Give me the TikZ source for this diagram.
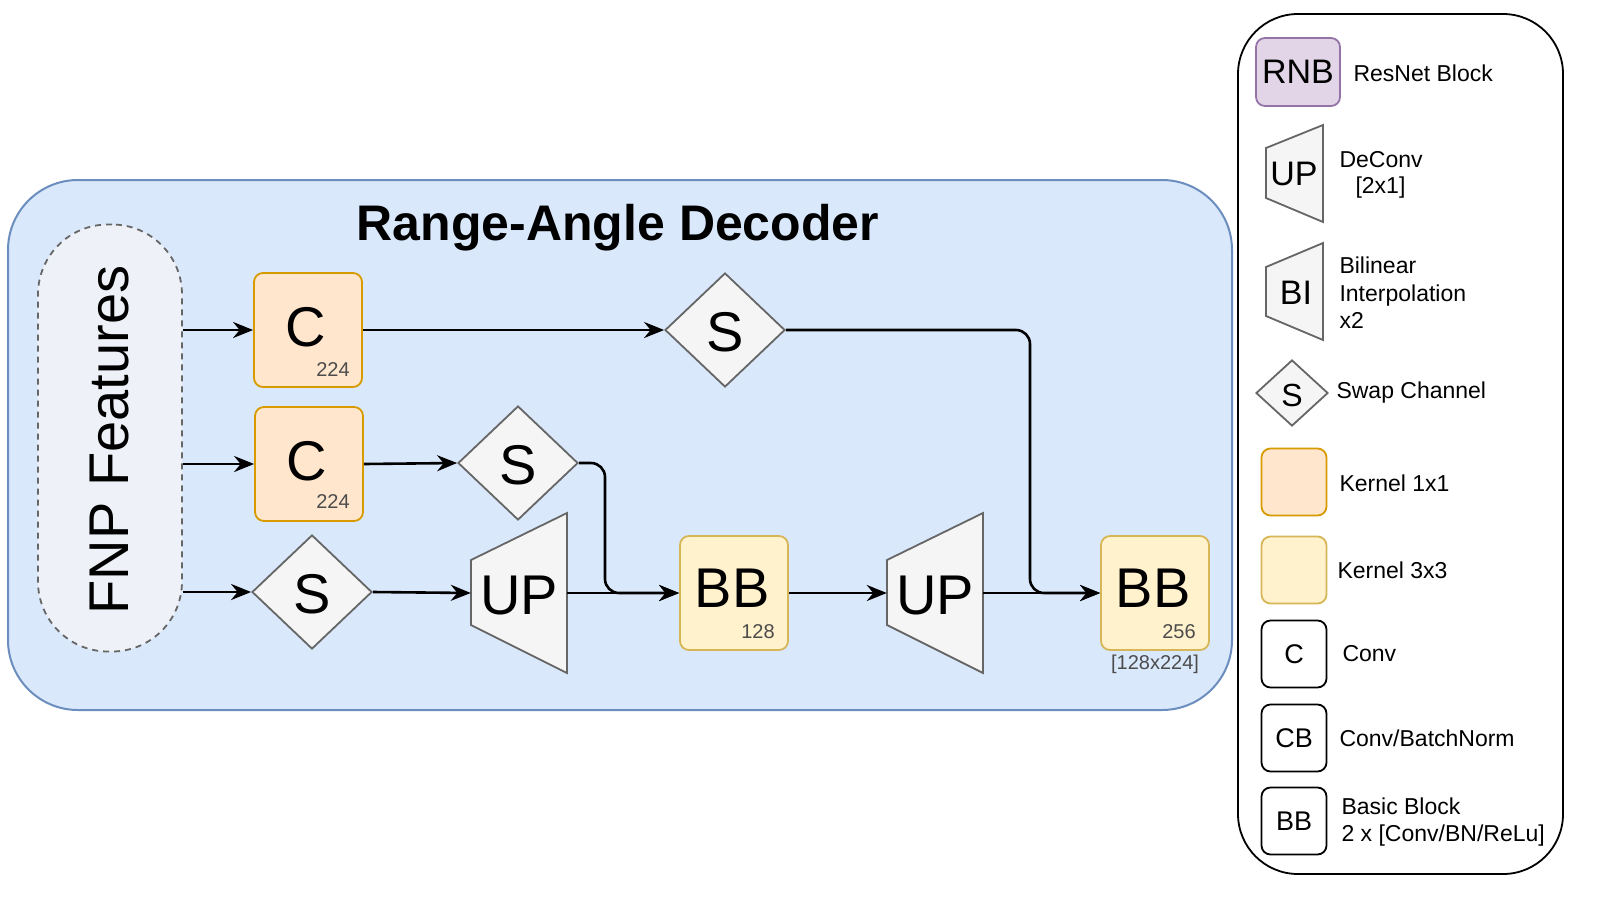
\documentclass[tikz,border=0pt]{standalone}
\usepackage{fontspec}
\setmainfont{Liberation Sans}
\usetikzlibrary{shapes.geometric,arrows.meta,calc}
\definecolor{blueF}{HTML}{DAE8FC}\definecolor{blueD}{HTML}{6C8EBF}
\definecolor{grayF}{HTML}{F5F5F5}\definecolor{grayD}{HTML}{666666}
\definecolor{orF}{HTML}{FFE6CC}\definecolor{orD}{HTML}{D79B00}
\definecolor{yeF}{HTML}{FFF2CC}\definecolor{yeD}{HTML}{D6B656}
\definecolor{puF}{HTML}{E1D5E7}\definecolor{puD}{HTML}{9673A6}
\definecolor{fnpF}{HTML}{EEF2F8}
\newcommand\fsz[1]{\fontsize{#1}{#1}\selectfont}
\begin{document}
\begin{tikzpicture}[x=1pt,y=-1pt,
 box/.style={rectangle,rounded corners=9,line width=1.8,inner sep=0,minimum width=108,minimum height=114},
 kone/.style={box,fill=orF,draw=orD},
 kthree/.style={box,fill=yeF,draw=yeD},
 dia/.style={diamond,fill=grayF,draw=grayD,line width=1.8,inner sep=0,minimum width=120,minimum height=114},
 trap/.style={fill=grayF,draw=grayD,line width=1.8},
 hold/.style={rectangle,inner sep=0,minimum width=96,minimum height=160},
 arr/.style={line width=2.6,-{Stealth[length=20,width=16]}},
 big/.style={font=\fsz{56},inner sep=0},
 small/.style={font=\fsz{20},text=black!70,inner sep=0},
 lab/.style={font=\fsz{23},anchor=west,align=left},
 lbox/.style={rectangle,rounded corners=9,line width=1.8,inner sep=0,minimum width=65,minimum height=67,font=\fsz{27}}]
\useasboundingbox[fill=white] (0,0) rectangle (1600,900);
% main panel
\draw[fill=blueF,draw=blueD,line width=2,rounded corners=70] (8,180) rectangle (1232,710);
\node[font=\fsz{50}\bfseries] (title) at (618,228) {Range-Angle Decoder};
\node[rectangle,rounded corners=70,minimum width=144,minimum height=427,fill=fnpF,draw=grayD,dashed,line width=1.8,dash pattern=on 6 off 5] (fnp) at (110,438) {};
\node[big,rotate=90] (fnptxt) at (110,440) {FNP Features};
% nodes
\node[kone] (c1) at (308,330) {};
\node[big] (c1t) at (306,327) {C};
\node[small] (c1n) at (333,370) {224};
\node[kone] (c2) at (309,464) {};
\node[big] (c2t) at (307,461) {C};
\node[small] (c2n) at (333,502) {224};
\node[dia] (s1) at (725,330) {};
\node[big] (s1t) at (725,332) {S};
\node[dia] (s2) at (518,463) {};
\node[big] (s2t) at (518,465) {S};
\node[dia] (s3) at (312,592) {};
\node[big] (s3t) at (312,594) {S};
\node[hold] (up1) at (519,593) {};
\draw[trap] (471,560) -- (567,513) -- (567,673) -- (471,625) -- cycle;
\node[big] (up1t) at (519,595) {UP};
\node[hold] (up2) at (935,593) {};
\draw[trap] (887,560) -- (983,513) -- (983,673) -- (887,625) -- cycle;
\node[big] (up2t) at (935,595) {UP};
\node[kthree] (bb1) at (734,593) {};
\node[big] (bb1t) at (732,588) {BB};
\node[small] (bb1n) at (758,632) {128};
\node[kthree] (bb2) at (1155,593) {};
\node[big] (bb2t) at (1153,588) {BB};
\node[small] (bb2n) at (1179,632) {256};
\node[small] (bb2d) at (1155,664) {[128x224]};
\coordinate (j1) at (1030,0);
\coordinate (j2) at (605,0);
% arrows
\draw[arr] (fnp.east |- c1.west) -- (c1.west);
\draw[arr] (fnp.east |- c2.west) -- (c2.west);
\draw[arr] (fnp.east |- s3.west) -- (s3.west);
\draw[arr] (c1.east) -- (s1.west);
\draw[arr] (c2.east) -- (s2.west);
\draw[arr] (s3.east) -- (up1.west);
\draw[arr] (up1.east) -- (bb1.west);
\draw[arr] (bb1.east) -- (up2.west);
\draw[arr] (up2.east) -- (bb2.west);
\draw[arr,rounded corners=14] (s1.east) -- (s1.east -| j1) -- (j1 |- bb2.west) -- (bb2.west);
\draw[arr,rounded corners=14] (s2.east) -- (s2.east -| j2) -- (j2 |- bb1.west) -- (bb1.west);
% legend
\draw[line width=1.8,rounded corners=60] (1238,14) rectangle (1563,874);
\node[lbox,fill=puF,draw=puD,minimum width=84,minimum height=68,font=\fsz{34}] (lrnb) at (1298,72) {RNB};
\node[lab] (lrnbl) at (1350,73) {ResNet Block};
\node[hold,minimum width=57,minimum height=97] (lup) at (1294,173) {};
\draw[trap] (1266,148) -- (1323,125) -- (1323,222) -- (1266,198) -- cycle;
\node[font=\fsz{34}] (lupt) at (1294,174) {UP};
\node[lab] (lupl1) at (1336,160) {DeConv};
\node[lab] (lupl2) at (1352,188) {[2x1]};
\node[hold,minimum width=57,minimum height=97] (lbi) at (1294,292) {};
\draw[trap] (1266,267) -- (1323,243) -- (1323,340) -- (1266,316) -- cycle;
\node[font=\fsz{34}] (lbit) at (1296,293) {BI};
\node[lab,font=\fsz{23}\linespread{1.2}\selectfont] (lbil) at (1336,293) {Bilinear\\Interpolation\\x2};
\node[dia,minimum width=72,minimum height=66] (ls) at (1292,393) {};
\node[font=\fsz{32}] (lst) at (1292,395) {S};
\node[lab] (lsl) at (1333,393) {Swap Channel};
\node[lbox,fill=orF,draw=orD] (lk1) at (1294,482) {};
\node[lab] (lk1l) at (1336,483) {Kernel 1x1};
\node[lbox,fill=yeF,draw=yeD] (lk3) at (1294,570) {};
\node[lab] (lk3l) at (1334,570) {Kernel 3x3};
\node[lbox,draw=black] (lc) at (1294,654) {C};
\node[lab] (lcl) at (1339,654) {Conv};
\node[lbox,draw=black] (lcb) at (1294,738) {CB};
\node[lab] (lcbl) at (1336,738) {Conv/BatchNorm};
\node[lbox,draw=black] (lbb) at (1294,821) {BB};
\node[lab,font=\fsz{23}\linespread{1.15}\selectfont] (lbbl) at (1338,822) {Basic Block\\2 x [Conv/BN/ReLu]};
\end{tikzpicture}
\end{document}
